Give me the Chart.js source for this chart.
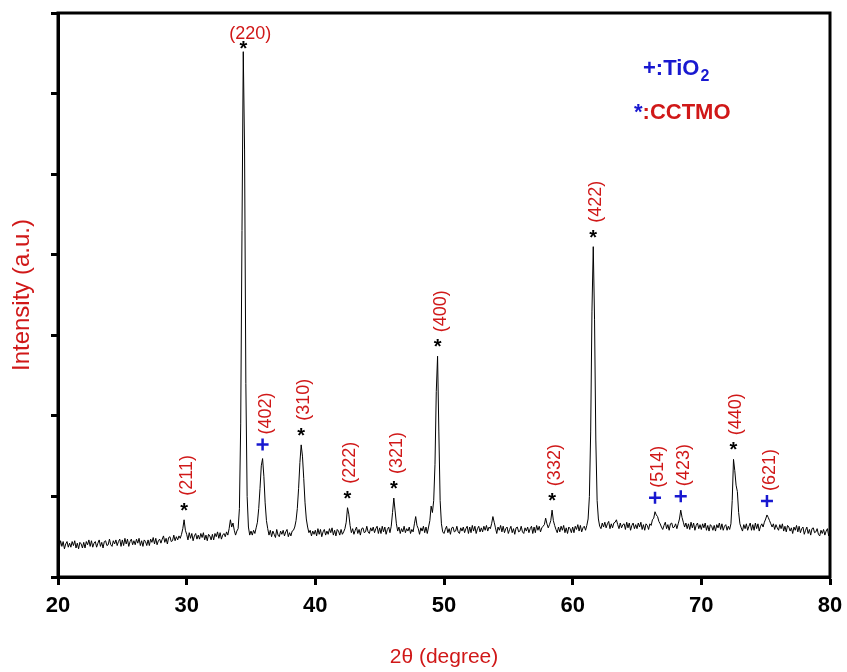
<!DOCTYPE html>
<html lang="en">
<head>
    <meta charset="UTF-8">
    <title>XRD pattern</title>
    <script src="https://cdn.jsdelivr.net/npm/chart.js"></script>
    <style>
        body { margin: 0; background: #fff; }
        #wrap { width: 847px; height: 672px; }
    </style>
</head>
<body>
<div id="wrap"><canvas id="xrd" width="847" height="672"></canvas></div>
<script>
// scan grid: 2theta from 20 to 80 deg, 0.1 deg steps
const thetaStart = 20;
const thetaStep = 0.1;

// intensity (a.u.), one row per degree
const intensity = [
    0.43,0.36,0.45,0.38,0.44,0.35,0.41,0.44,0.37,0.42,
    0.37,0.44,0.39,0.45,0.36,0.42,0.35,0.43,0.41,0.36,
    0.43,0.36,0.44,0.40,0.46,0.38,0.45,0.37,0.42,0.44,
    0.37,0.42,0.46,0.38,0.43,0.36,0.44,0.45,0.39,0.40,
    0.47,0.40,0.38,0.45,0.41,0.46,0.39,0.44,0.47,0.38,
    0.46,0.39,0.48,0.41,0.47,0.38,0.44,0.47,0.40,0.45,
    0.40,0.47,0.42,0.48,0.39,0.45,0.38,0.46,0.44,0.39,
    0.46,0.39,0.47,0.43,0.49,0.41,0.48,0.40,0.45,0.47,
    0.42,0.47,0.51,0.43,0.48,0.41,0.49,0.50,0.44,0.45,
    0.52,0.45,0.50,0.46,0.51,0.48,0.53,0.60,0.71,0.58,
    0.53,0.46,0.55,0.48,0.54,0.45,0.51,0.54,0.47,0.52,
    0.47,0.54,0.49,0.55,0.46,0.52,0.45,0.53,0.51,0.46,
    0.53,0.46,0.54,0.50,0.56,0.48,0.55,0.47,0.52,0.54,
    0.50,0.56,0.52,0.60,0.71,0.62,0.67,0.58,0.52,0.57,
    0.60,0.85,1.90,4.30,6.52,5.30,2.40,1.00,0.62,0.52,
    0.57,0.52,0.58,0.54,0.61,0.68,0.85,1.10,1.38,1.47,
    1.25,0.92,0.70,0.60,0.52,0.58,0.50,0.57,0.53,0.49,
    0.59,0.52,0.50,0.57,0.53,0.58,0.51,0.56,0.59,0.50,
    0.55,0.51,0.57,0.58,0.62,0.70,0.85,1.10,1.42,1.64,
    1.50,1.22,0.92,0.72,0.62,0.55,0.58,0.51,0.57,0.53,
    0.58,0.51,0.60,0.53,0.59,0.50,0.56,0.59,0.52,0.57,
    0.53,0.60,0.55,0.61,0.52,0.58,0.51,0.59,0.57,0.52,
    0.59,0.53,0.56,0.60,0.68,0.86,0.78,0.64,0.55,0.60,
    0.53,0.58,0.62,0.54,0.59,0.52,0.60,0.61,0.55,0.56,
    0.63,0.56,0.54,0.61,0.57,0.62,0.55,0.60,0.63,0.54,
    0.61,0.54,0.63,0.56,0.62,0.53,0.59,0.62,0.55,0.63,
    0.80,0.98,0.82,0.66,0.57,0.62,0.54,0.60,0.56,0.63,
    0.55,0.60,0.57,0.62,0.54,0.59,0.56,0.66,0.75,0.64,
    0.60,0.53,0.61,0.57,0.63,0.55,0.62,0.54,0.62,0.70,
    0.88,0.80,0.95,1.40,2.30,2.74,1.80,0.95,0.66,0.56,
    0.54,0.59,0.63,0.55,0.60,0.53,0.61,0.62,0.56,0.57,
    0.63,0.56,0.54,0.61,0.57,0.62,0.55,0.60,0.63,0.54,
    0.62,0.55,0.64,0.57,0.63,0.54,0.60,0.63,0.56,0.61,
    0.56,0.63,0.58,0.64,0.57,0.62,0.60,0.66,0.75,0.68,
    0.61,0.54,0.62,0.58,0.64,0.56,0.63,0.55,0.60,0.62,
    0.54,0.59,0.63,0.55,0.60,0.53,0.61,0.62,0.56,0.57,
    0.63,0.56,0.54,0.61,0.57,0.62,0.55,0.60,0.63,0.54,
    0.62,0.55,0.64,0.58,0.63,0.56,0.61,0.63,0.65,0.73,
    0.66,0.61,0.65,0.70,0.83,0.70,0.64,0.59,0.55,0.62,
    0.56,0.63,0.58,0.64,0.55,0.61,0.54,0.62,0.60,0.55,
    0.62,0.55,0.63,0.59,0.65,0.57,0.64,0.56,0.61,0.63,
    0.58,0.64,0.72,1.00,1.80,3.30,4.10,3.20,1.70,0.95,
    0.72,0.63,0.60,0.67,0.62,0.68,0.61,0.66,0.69,0.60,
    0.66,0.61,0.67,0.68,0.71,0.65,0.60,0.67,0.61,0.65,
    0.66,0.59,0.68,0.61,0.67,0.58,0.64,0.67,0.60,0.65,
    0.60,0.67,0.62,0.68,0.59,0.65,0.58,0.66,0.64,0.59,
    0.66,0.64,0.71,0.73,0.81,0.77,0.75,0.69,0.66,0.62,
    0.59,0.64,0.68,0.60,0.65,0.58,0.66,0.67,0.61,0.62,
    0.66,0.60,0.66,0.72,0.83,0.74,0.68,0.62,0.67,0.60,
    0.66,0.59,0.68,0.61,0.67,0.58,0.64,0.67,0.60,0.65,
    0.59,0.66,0.61,0.67,0.58,0.64,0.57,0.65,0.63,0.58,
    0.64,0.57,0.65,0.61,0.67,0.59,0.66,0.58,0.63,0.65,
    0.58,0.63,0.59,0.66,0.95,1.46,1.32,1.14,1.06,0.80,
    0.66,0.61,0.57,0.65,0.60,0.66,0.58,0.63,0.67,0.58,
    0.65,0.58,0.67,0.60,0.66,0.57,0.63,0.66,0.62,0.68,
    0.72,0.77,0.74,0.70,0.66,0.62,0.66,0.59,0.65,0.61,
    0.58,0.65,0.60,0.66,0.57,0.63,0.56,0.64,0.62,0.57,
    0.61,0.54,0.62,0.58,0.64,0.56,0.63,0.55,0.60,0.62,
    0.53,0.58,0.62,0.54,0.59,0.52,0.60,0.61,0.55,0.56,
    0.60,0.53,0.51,0.58,0.54,0.59,0.52,0.57,0.60,0.51,
    0.54
];

// indexed reflections
const peakPos   = [29.8, 34.4, 35.9, 38.9, 42.5, 46.1, 49.5, 58.4, 61.6, 66.4, 68.4, 72.5, 75.1];
const peakHkl   = ['(211)', '(220)', '(402)', '(310)', '(222)', '(321)', '(400)', '(332)', '(422)', '(514)', '(423)', '(440)', '(621)'];
const peakPhase = ['CCTMO', 'CCTMO', 'TiO2', 'CCTMO', 'CCTMO', 'CCTMO', 'CCTMO', 'CCTMO', 'CCTMO', 'TiO2', 'TiO2', 'CCTMO', 'TiO2'];

const xTicks = [20, 30, 40, 50, 60, 70, 80];

const FONT = 'Arial, "Liberation Sans", sans-serif';
const RED = '#d01818';
const BLUE = '#1818d0';

function drawStar(ctx, cx, cy) {
    ctx.font = 'bold 20px ' + FONT;
    ctx.fillStyle = '#000';
    ctx.textAlign = 'center';
    ctx.textBaseline = 'alphabetic';
    ctx.fillText('*', cx, cy + 11);
}

function drawPlus(ctx, cx, cy) {
    ctx.strokeStyle = BLUE;
    ctx.lineWidth = 2.5;
    ctx.beginPath();
    ctx.moveTo(cx - 6, cy); ctx.lineTo(cx + 6, cy);
    ctx.moveTo(cx, cy - 6); ctx.lineTo(cx, cy + 6);
    ctx.stroke();
}

// frame on all four sides
const frame = {
    id: 'frame',
    afterDraw(chart) {
        const { ctx, chartArea: a } = chart;
        ctx.save();
        ctx.strokeStyle = '#000';
        ctx.lineWidth = 3;
        ctx.strokeRect(a.left, a.top, a.right - a.left, a.bottom - a.top);
        ctx.restore();
    }
};

// hkl labels, phase markers and the phase key
const peakLabels = {
    id: 'peakLabels',
    afterDatasetsDraw(chart) {
        const { ctx, chartArea, scales: { x, y } } = chart;
        ctx.save();
        peakPos.forEach((pos, i) => {
            let top = 0;
            intensity.forEach((v, j) => {
                const t = thetaStart + j * thetaStep;
                if (Math.abs(t - pos) < 0.25 && v > top) top = v;
            });
            const px = x.getPixelForValue(pos);
            const py = y.getPixelForValue(top);
            ctx.font = '18px ' + FONT;
            ctx.fillStyle = RED;
            const w = ctx.measureText(peakHkl[i]).width;
            let my;
            if (py - 24 - w < chartArea.top) {
                my = py - 8;
                ctx.textAlign = 'center';
                ctx.textBaseline = 'middle';
                ctx.fillText(peakHkl[i], px + 7, py - 18);
            } else {
                my = py - 14;
                ctx.save();
                ctx.translate(px + 3, py - 24);
                ctx.rotate(-Math.PI / 2);
                ctx.textAlign = 'left';
                ctx.textBaseline = 'middle';
                ctx.fillText(peakHkl[i], 0, 0);
                ctx.restore();
            }
            if (peakPhase[i] === 'TiO2') drawPlus(ctx, px, my);
            else drawStar(ctx, px, my);
        });

        // key
        ctx.textAlign = 'left';
        ctx.textBaseline = 'alphabetic';
        ctx.font = 'bold 22px ' + FONT;
        ctx.fillStyle = BLUE;
        ctx.fillText('+:TiO', 643, 75);
        const w1 = ctx.measureText('+:TiO').width;
        ctx.font = 'bold 16px ' + FONT;
        ctx.fillText('2', 643 + w1 + 1, 81);
        ctx.font = 'bold 22px ' + FONT;
        ctx.fillText('*', 634, 119);
        const w2 = ctx.measureText('*').width;
        ctx.fillStyle = RED;
        ctx.fillText(':CCTMO', 634 + w2, 119);
        ctx.restore();
    }
};

const points = intensity.map((v, i) => ({ x: thetaStart + i * thetaStep, y: v }));

new Chart(document.getElementById('xrd'), {
    type: 'line',
    data: {
        datasets: [{
            data: points,
            borderColor: '#000',
            borderWidth: 1,
            pointRadius: 0,
            tension: 0
        }]
    },
    options: {
        responsive: false,
        animation: false,
        devicePixelRatio: 1,
        layout: { padding: { top: 13, right: 17, left: 0, bottom: 0 } },
        plugins: { legend: { display: false }, tooltip: { enabled: false } },
        scales: {
            x: {
                type: 'linear',
                min: xTicks[0],
                max: xTicks[xTicks.length - 1],
                afterBuildTicks: s => { s.ticks = xTicks.map(v => ({ value: v })); },
                ticks: { color: '#000', font: { family: FONT, size: 22, weight: 'bold' }, padding: 8, maxRotation: 0 },
                grid: { drawOnChartArea: false, color: '#000', tickLength: 8, tickWidth: 3 },
                border: { color: '#000', width: 3 },
                title: { display: true, text: '2\u03b8 (degree)', color: RED, font: { family: FONT, size: 21 }, padding: { top: 0, bottom: 2 } },
                afterFit: s => { s.height = 95; s.paddingLeft = 0; s.paddingRight = 0; }
            },
            y: {
                min: 0,
                max: 7,
                ticks: { stepSize: 1, display: false },
                grid: { drawOnChartArea: false, color: '#000', tickLength: 7, tickWidth: 3 },
                border: { color: '#000', width: 3 },
                title: { display: true, text: 'Intensity (a.u.)', color: RED, font: { family: FONT, size: 24 }, padding: { top: 8, bottom: 0 } },
                afterFit: s => { s.width = 58; s.paddingTop = 0; s.paddingBottom = 0; }
            }
        }
    },
    plugins: [frame, peakLabels]
});
</script>
</body>
</html>
